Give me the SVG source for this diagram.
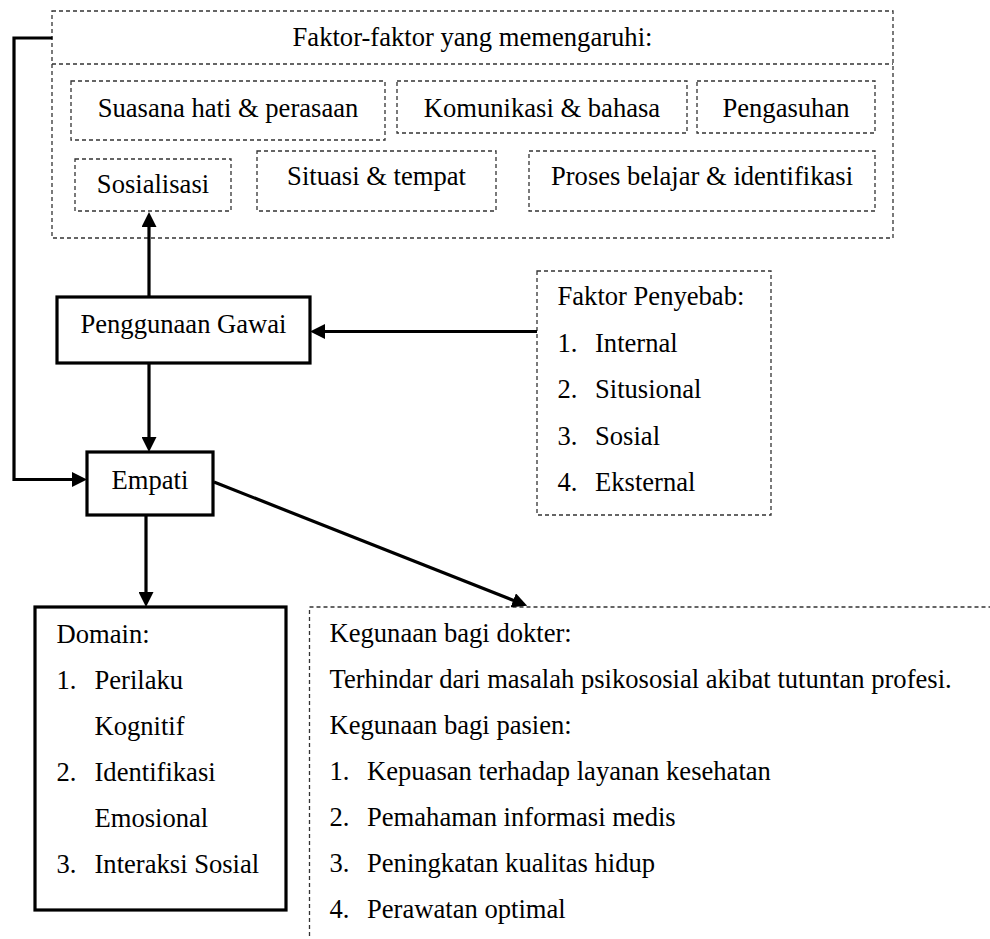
<svg xmlns="http://www.w3.org/2000/svg" width="990" height="939" viewBox="0 0 990 939">
<style>
text{font-family:"Liberation Serif","Times New Roman",serif;font-size:26.6px;fill:#000}
.c{text-anchor:middle}
.d{fill:none;stroke:#333;stroke-width:1.3;stroke-dasharray:4 3}
.s{fill:#fff;stroke:#000;stroke-width:3.2}
.l{fill:none;stroke:#000;stroke-width:3.2}
</style>
<defs>
<marker id="ah" viewBox="0 0 15 15" refX="10" refY="7.5" markerWidth="15" markerHeight="15" markerUnits="userSpaceOnUse" orient="auto">
<path d="M0,0 L15,7.5 L0,15 Z" fill="#000"/>
</marker>
</defs>
<rect width="990" height="939" fill="#fff"/>
<g id="faktor-memengaruhi">
<rect class="d" x="52" y="11" width="841" height="227"/>
<line class="d" x1="52" y1="64" x2="893" y2="64"/>
<text class="c" x="472.5" y="46">Faktor-faktor yang memengaruhi:</text>
</g>
<g id="suasana"><rect class="d" x="71" y="81" width="314" height="59"/><text class="c" x="228" y="117">Suasana hati &amp; perasaan</text></g>
<g id="komunikasi"><rect class="d" x="397" y="81" width="290" height="52"/><text class="c" x="542" y="117">Komunikasi &amp; bahasa</text></g>
<g id="pengasuhan"><rect class="d" x="697" y="81" width="178" height="52"/><text class="c" x="786" y="117">Pengasuhan</text></g>
<g id="sosialisasi"><rect class="d" x="75" y="159" width="156" height="52"/><text class="c" x="153" y="193">Sosialisasi</text></g>
<g id="situasi"><rect class="d" x="257" y="151" width="239" height="60"/><text class="c" x="376.5" y="185">Situasi &amp; tempat</text></g>
<g id="proses"><rect class="d" x="529" y="151" width="346" height="60"/><text class="c" x="702" y="185">Proses belajar &amp; identifikasi</text></g>
<g id="penggunaan-gawai"><rect class="s" x="57" y="297" width="253" height="66"/><text class="c" x="183.5" y="333">Penggunaan Gawai</text></g>
<g id="faktor-penyebab">
<rect class="d" x="537" y="271" width="234" height="244"/>
<text x="557.5" y="305">Faktor Penyebab:</text>
<text x="557.5" y="351.5">1.</text><text x="595" y="351.5">Internal</text>
<text x="557.5" y="398">2.</text><text x="595" y="398">Situsional</text>
<text x="557.5" y="444.5">3.</text><text x="595" y="444.5">Sosial</text>
<text x="557.5" y="490.5">4.</text><text x="595" y="490.5">Eksternal</text>
</g>
<g id="empati"><rect class="s" x="87" y="452" width="126" height="63"/><text class="c" x="150" y="489">Empati</text></g>
<g id="domain">
<rect class="s" x="35" y="607" width="251" height="303"/>
<text x="56.5" y="643">Domain:</text>
<text x="56.5" y="689">1.</text><text x="94.5" y="689">Perilaku</text>
<text x="94.5" y="735">Kognitif</text>
<text x="56.5" y="781">2.</text><text x="94.5" y="781">Identifikasi</text>
<text x="94.5" y="827">Emosional</text>
<text x="56.5" y="872.5">3.</text><text x="94.5" y="872.5">Interaksi Sosial</text>
</g>
<g id="kegunaan">
<rect class="d" x="309.5" y="607" width="720" height="400"/>
<text x="329.5" y="641.5">Kegunaan bagi dokter:</text>
<text x="329.5" y="687.5">Terhindar dari masalah psikososial akibat tutuntan profesi.</text>
<text x="329.5" y="733.5">Kegunaan bagi pasien:</text>
<text x="329.5" y="780">1.</text><text x="367" y="780">Kepuasan terhadap layanan kesehatan</text>
<text x="329.5" y="826">2.</text><text x="367" y="826">Pemahaman informasi medis</text>
<text x="329.5" y="872">3.</text><text x="367" y="872">Peningkatan kualitas hidup</text>
<text x="329.5" y="918">4.</text><text x="367" y="918">Perawatan optimal</text>
</g>
<g id="connectors">
<path class="l" d="M149,297 V217" marker-end="url(#ah)"/>
<path class="l" d="M537,331.5 H315" marker-end="url(#ah)"/>
<path class="l" d="M149,363 V447" marker-end="url(#ah)"/>
<path class="l" d="M52.5,38 H14 V479.5 H82" marker-end="url(#ah)"/>
<path class="l" d="M146,515 V602" marker-end="url(#ah)"/>
<path class="l" d="M214,482 L522.5,604" marker-end="url(#ah)"/>
</g>
</svg>
